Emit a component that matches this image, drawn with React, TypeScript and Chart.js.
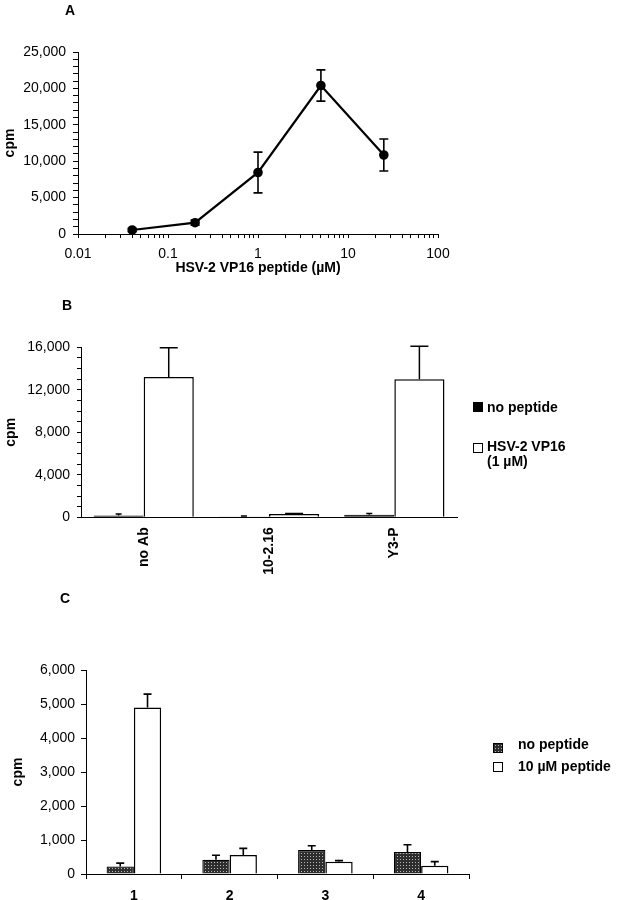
import React, { useEffect, useMemo, useRef } from 'react';
import { Chart, registerables } from 'chart.js';

Chart.register(...registerables);

const FONT = "'Liberation Sans', Arial, Helvetica, sans-serif";

// ---------- Panel A ----------
const aConc = [0.04, 0.2, 1, 5, 25];
const aCpm = [550, 1550, 8450, 20400, 10850];
const aErr = [250, 350, 2800, 2150, 2200];
const aXMajor = [0.01, 0.1, 1, 10, 100];
const aYMax = 25000;
const aYStep = 1000;
const aYLabelEvery = 5000;
const aXTitle = 'HSV-2 VP16 peptide (µM)';

// ---------- Panel B ----------
const bCategories = ['no Ab', '10-2.16', 'Y3-P'];
const bNoPeptide = [180, 80, 250];
const bNoPeptideErr = [120, 40, 100];
const bVP16 = [13200, 300, 13000];
const bVP16Err = [2750, 60, 3100];
const bYMax = 16000;
const bYStep = 1000;
const bYLabelEvery = 4000;
const bLegend = ['no peptide', 'HSV-2 VP16', '(1 µM)'];

// ---------- Panel C ----------
const cCategories = ['1', '2', '3', '4'];
const cNoPeptide = [220, 420, 706, 647];
const cNoPeptideErr = [100, 130, 125, 215];
const cPeptide = [4900, 560, 363, 245];
const cPeptideErr = [390, 195, 30, 120];
const cYMax = 6000;
const cYStep = 1000;
const cLegend = ['no peptide', '10 µM peptide'];

const aXTicks: number[] = (() => {
  const out: number[] = [];
  for (let i = 0; i < aXMajor.length - 1; i++) {
    for (let m = 1; m <= 9; m++) out.push(parseFloat((m * aXMajor[i]).toPrecision(6)));
  }
  out.push(aXMajor[aXMajor.length - 1]);
  return out;
})();

function makeTile(): HTMLCanvasElement {
  const c = document.createElement('canvas');
  c.width = 3;
  c.height = 3;
  const g = c.getContext('2d')!;
  g.fillStyle = '#2e2e2e';
  g.fillRect(0, 0, 3, 3);
  g.fillStyle = '#b5b5b5';
  g.fillRect(1, 1, 1, 1);
  return c;
}

const errorBarPlugin = {
  id: 'errorBars',
  afterDatasetsDraw(chart: any) {
    const { ctx } = chart;
    chart.data.datasets.forEach((ds: any, i: number) => {
      if (!ds.errorBars) return;
      const meta = chart.getDatasetMeta(i);
      const yScale = chart.scales[meta.yAxisID];
      ctx.save();
      ctx.strokeStyle = '#000';
      ctx.lineWidth = ds.errorBarWidth || 1.5;
      const cap = ds.errorBarCap || 4;
      meta.data.forEach((el: any, j: number) => {
        const raw = ds.data[j];
        const v = typeof raw === 'object' ? raw.y : raw;
        const e = ds.errorBars[j];
        const x = el.x;
        const top = yScale.getPixelForValue(v + e);
        const bottom = ds.errorBothSides ? yScale.getPixelForValue(v - e) : yScale.getPixelForValue(v);
        ctx.beginPath();
        ctx.moveTo(x, bottom);
        ctx.lineTo(x, top);
        ctx.moveTo(x - cap, top);
        ctx.lineTo(x + cap, top);
        if (ds.errorBothSides) {
          ctx.moveTo(x - cap, bottom);
          ctx.lineTo(x + cap, bottom);
        }
        ctx.stroke();
      });
      ctx.restore();
    });
  },
};

const fmt = (v: number) => v.toLocaleString('en-US');

export default function App() {
  const aRef = useRef<HTMLCanvasElement>(null);
  const bRef = useRef<HTMLCanvasElement>(null);
  const cRef = useRef<HTMLCanvasElement>(null);
  const tileUrl = useMemo(() => makeTile().toDataURL(), []);

  useEffect(() => {
    Chart.defaults.font.family = FONT;
    Chart.defaults.color = '#000';
    const axisBorder = { color: '#000', width: 1 };
    const tickFont = { size: 14, weight: 'normal' as const };
    const boldFont = { size: 14, weight: 'bold' as const };

    const chartA = new Chart(aRef.current!, {
      type: 'scatter',
      data: {
        datasets: [
          {
            data: aConc.map((x, i) => ({ x, y: aCpm[i] })),
            showLine: true,
            borderColor: '#000',
            borderWidth: 2.2,
            pointRadius: 3.7,
            pointBackgroundColor: '#000',
            pointBorderColor: '#000',
            errorBars: aErr,
            errorBothSides: true,
            errorBarCap: 4.5,
            errorBarWidth: 1.6,
          } as any,
        ],
      },
      options: {
        animation: false,
        responsive: false,
        events: [],
        layout: { padding: { top: 52, left: 0, right: 181, bottom: 0 } },
        plugins: { legend: { display: false }, tooltip: { enabled: false } },
        scales: {
          x: {
            type: 'logarithmic',
            min: aXMajor[0],
            max: aXMajor[aXMajor.length - 1],
            afterBuildTicks: (s: any) => {
              s.ticks = aXTicks.map((v) => ({ value: v, major: aXMajor.includes(v) }));
            },
            afterFit: (s: any) => {
              s.height = 56;
            },
            border: axisBorder,
            grid: { drawOnChartArea: false, tickLength: 4, tickColor: '#000', color: '#000' },
            ticks: {
              autoSkip: false,
              maxRotation: 0,
              padding: 7.5,
              font: tickFont,
              color: '#000',
              callback: (v: any) => (aXMajor.includes(Number(v)) ? String(v) : ''),
            },
            title: { display: true, text: aXTitle, font: boldFont, color: '#000', padding: { top: 0, bottom: 13 } },
          },
          y: {
            min: 0,
            max: aYMax,
            afterFit: (s: any) => {
              s.width = 78;
            },
            border: axisBorder,
            grid: { drawOnChartArea: false, tickLength: 5, tickColor: '#000', color: '#000' },
            ticks: {
              stepSize: aYStep,
              autoSkip: false,
              padding: 7,
              font: tickFont,
              color: '#000',
              callback: (v: any) => (Number(v) % aYLabelEvery === 0 ? fmt(Number(v)) : ''),
            },
            title: { display: true, text: 'cpm', font: boldFont, color: '#000', padding: { top: 2.2, bottom: 0 } },
          },
        },
      } as any,
      plugins: [errorBarPlugin],
    });

    const chartB = new Chart(bRef.current!, {
      type: 'bar',
      data: {
        labels: bCategories,
        datasets: [
          {
            label: bLegend[0],
            data: bNoPeptide,
            backgroundColor: '#000',
            borderColor: '#000',
            borderWidth: 1,
            errorBars: bNoPeptideErr,
            errorBarCap: 3,
            errorBarWidth: 1.5,
          } as any,
          {
            label: bLegend[1] + ' ' + bLegend[2],
            data: bVP16,
            backgroundColor: '#fff',
            borderColor: '#000',
            borderWidth: 1.5,
            errorBars: bVP16Err,
            errorBarCap: 9,
            errorBarWidth: 1.5,
          } as any,
        ],
      },
      options: {
        animation: false,
        responsive: false,
        events: [],
        layout: { padding: { top: 57.3, left: 0, right: 162, bottom: 0 } },
        plugins: { legend: { display: false }, tooltip: { enabled: false } },
        datasets: { bar: { categoryPercentage: 0.8, barPercentage: 1.0 } },
        scales: {
          x: {
            afterFit: (s: any) => {
              s.height = 82.7;
            },
            border: axisBorder,
            grid: { drawOnChartArea: false, drawTicks: false },
            ticks: { minRotation: 90, maxRotation: 90, padding: 10, font: boldFont, color: '#000' },
          },
          y: {
            min: 0,
            max: bYMax,
            afterFit: (s: any) => {
              s.width = 81;
            },
            border: axisBorder,
            grid: { drawOnChartArea: false, tickLength: 4, tickColor: '#000', color: '#000' },
            ticks: {
              stepSize: bYStep,
              autoSkip: false,
              padding: 7,
              font: tickFont,
              color: '#000',
              callback: (v: any) => (Number(v) % bYLabelEvery === 0 ? fmt(Number(v)) : ''),
            },
            title: { display: true, text: 'cpm', font: boldFont, color: '#000', padding: { top: 2.6, bottom: 0 } },
          },
        },
      } as any,
      plugins: [errorBarPlugin],
    });

    const pctx = cRef.current!.getContext('2d')!;
    const pattern = pctx.createPattern(makeTile(), 'repeat');

    const chartC = new Chart(cRef.current!, {
      type: 'bar',
      data: {
        labels: cCategories,
        datasets: [
          {
            label: cLegend[0],
            data: cNoPeptide,
            backgroundColor: pattern as any,
            borderColor: '#000',
            borderWidth: 1.2,
            errorBars: cNoPeptideErr,
            errorBarCap: 4,
            errorBarWidth: 1.6,
          } as any,
          {
            label: cLegend[1],
            data: cPeptide,
            backgroundColor: '#fff',
            borderColor: '#000',
            borderWidth: 1.5,
            errorBars: cPeptideErr,
            errorBarCap: 4,
            errorBarWidth: 1.6,
          } as any,
        ],
      },
      options: {
        animation: false,
        responsive: false,
        events: [],
        layout: { padding: { top: 70, left: 0, right: 150, bottom: 0 } },
        plugins: { legend: { display: false }, tooltip: { enabled: false } },
        datasets: { bar: { categoryPercentage: 0.57, barPercentage: 1.0 } },
        scales: {
          x: {
            afterFit: (s: any) => {
              s.height = 26;
            },
            border: axisBorder,
            grid: { drawOnChartArea: false, offset: true, tickLength: 5, tickColor: '#000', color: '#000' },
            ticks: { maxRotation: 0, padding: 9, font: boldFont, color: '#000' },
          },
          y: {
            min: 0,
            max: cYMax,
            afterFit: (s: any) => {
              s.width = 86;
            },
            border: axisBorder,
            grid: { drawOnChartArea: false, tickLength: 5, tickColor: '#000', color: '#000' },
            ticks: {
              stepSize: cYStep,
              autoSkip: false,
              padding: 6,
              font: tickFont,
              color: '#000',
              callback: (v: any) => fmt(Number(v)),
            },
            title: { display: true, text: 'cpm', font: boldFont, color: '#000', padding: { top: 9.4, bottom: 0 } },
          },
        },
      } as any,
      plugins: [errorBarPlugin],
    });

    return () => {
      chartA.destroy();
      chartB.destroy();
      chartC.destroy();
    };
  }, []);

  const text: React.CSSProperties = {
    position: 'absolute',
    fontFamily: FONT,
    fontWeight: 'bold',
    fontSize: 14,
    lineHeight: '16px',
    color: '#000',
    whiteSpace: 'nowrap',
  };
  const sq = (left: number, top: number, extra: React.CSSProperties): React.CSSProperties => ({
    position: 'absolute',
    left,
    top,
    width: 10,
    height: 10,
    boxSizing: 'border-box',
    ...extra,
  });

  return (
    <div style={{ position: 'absolute', left: 0, top: 0, width: 619, height: 900, background: '#fff', overflow: 'hidden' }}>
      <canvas ref={aRef} width={619} height={290} style={{ position: 'absolute', left: 0, top: 0, width: 619, height: 290 }} />
      <canvas ref={bRef} width={619} height={310} style={{ position: 'absolute', left: 0, top: 290, width: 619, height: 310 }} />
      <canvas ref={cRef} width={619} height={300} style={{ position: 'absolute', left: 0, top: 600, width: 619, height: 300 }} />

      <div style={{ ...text, left: 65, top: 2 }}>A</div>
      <div style={{ ...text, left: 62, top: 297 }}>B</div>
      <div style={{ ...text, left: 60, top: 590 }}>C</div>

      {/* Legend B */}
      <div style={sq(473, 402, { background: '#000' })} />
      <div style={{ ...text, left: 487, top: 399 }}>{bLegend[0]}</div>
      <div style={sq(473, 443, { background: '#fff', border: '1px solid #000' })} />
      <div style={{ ...text, left: 487, top: 439, lineHeight: '15px' }}>
        {bLegend[1]}
        <br />
        {bLegend[2]}
      </div>

      {/* Legend C */}
      <div style={sq(493, 743, { backgroundImage: `url(${tileUrl})`, border: '1px solid #000' })} />
      <div style={{ ...text, left: 518, top: 736 }}>{cLegend[0]}</div>
      <div style={sq(493, 762, { background: '#fff', border: '1px solid #000' })} />
      <div style={{ ...text, left: 518, top: 758 }}>{cLegend[1]}</div>
    </div>
  );
}
